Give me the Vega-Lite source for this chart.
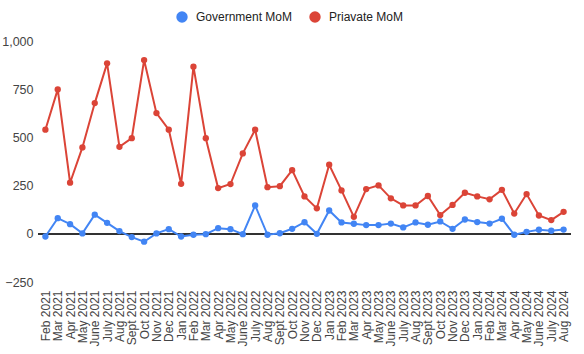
{
  "$schema": "https://vega.github.io/schema/vega-lite/v6.json",
  "width": 533,
  "height": 241,
  "autosize": "none",
  "padding": {"left": 38, "top": 41, "right": 13, "bottom": 72},
  "background": "white",
  "config": {
    "font": "Liberation Sans",
    "view": {"stroke": null},
    "axis": {"labelFont": "Liberation Sans", "labelColor": "#444444", "labelFontSize": 12}
  },
  "data": {
    "values": [
      {"month": "Feb 2021", "Government MoM": -14, "Priavate MoM": 540},
      {"month": "Mar 2021", "Government MoM": 81, "Priavate MoM": 749},
      {"month": "Apr 2021", "Government MoM": 50, "Priavate MoM": 265},
      {"month": "May 2021", "Government MoM": 2, "Priavate MoM": 448},
      {"month": "June 2021", "Government MoM": 99, "Priavate MoM": 678},
      {"month": "July 2021", "Government MoM": 57, "Priavate MoM": 884},
      {"month": "Aug 2021", "Government MoM": 14, "Priavate MoM": 451},
      {"month": "Sept 2021", "Government MoM": -17, "Priavate MoM": 496},
      {"month": "Oct 2021", "Government MoM": -41, "Priavate MoM": 901},
      {"month": "Nov 2021", "Government MoM": 2, "Priavate MoM": 626},
      {"month": "Dec 2021", "Government MoM": 24, "Priavate MoM": 540},
      {"month": "Jan 2022", "Government MoM": -14, "Priavate MoM": 259},
      {"month": "Feb 2022", "Government MoM": -5, "Priavate MoM": 867},
      {"month": "Mar 2022", "Government MoM": -2, "Priavate MoM": 496},
      {"month": "Apr 2022", "Government MoM": 29, "Priavate MoM": 237},
      {"month": "May 2022", "Government MoM": 24, "Priavate MoM": 258},
      {"month": "June 2022", "Government MoM": -2, "Priavate MoM": 417},
      {"month": "July 2022", "Government MoM": 147, "Priavate MoM": 540},
      {"month": "Aug 2022", "Government MoM": -5, "Priavate MoM": 242},
      {"month": "Sept 2022", "Government MoM": 3, "Priavate MoM": 247},
      {"month": "Oct 2022", "Government MoM": 26, "Priavate MoM": 330},
      {"month": "Nov 2022", "Government MoM": 60, "Priavate MoM": 194},
      {"month": "Dec 2022", "Government MoM": 0, "Priavate MoM": 132},
      {"month": "Jan 2023", "Government MoM": 121, "Priavate MoM": 358},
      {"month": "Feb 2023", "Government MoM": 59, "Priavate MoM": 225},
      {"month": "Mar 2023", "Government MoM": 52, "Priavate MoM": 88},
      {"month": "Apr 2023", "Government MoM": 45, "Priavate MoM": 232},
      {"month": "May 2023", "Government MoM": 45, "Priavate MoM": 251},
      {"month": "June 2023", "Government MoM": 53, "Priavate MoM": 184},
      {"month": "July 2023", "Government MoM": 33, "Priavate MoM": 147},
      {"month": "Aug 2023", "Government MoM": 59, "Priavate MoM": 147},
      {"month": "Sept 2023", "Government MoM": 47, "Priavate MoM": 196},
      {"month": "Oct 2023", "Government MoM": 64, "Priavate MoM": 97},
      {"month": "Nov 2023", "Government MoM": 26, "Priavate MoM": 150},
      {"month": "Dec 2023", "Government MoM": 74, "Priavate MoM": 213},
      {"month": "Jan 2024", "Government MoM": 61, "Priavate MoM": 194},
      {"month": "Feb 2024", "Government MoM": 53, "Priavate MoM": 179},
      {"month": "Mar 2024", "Government MoM": 78, "Priavate MoM": 228},
      {"month": "Apr 2024", "Government MoM": -5, "Priavate MoM": 105},
      {"month": "May 2024", "Government MoM": 10, "Priavate MoM": 206},
      {"month": "June 2024", "Government MoM": 21, "Priavate MoM": 95},
      {"month": "July 2024", "Government MoM": 16, "Priavate MoM": 71},
      {"month": "Aug 2024", "Government MoM": 22, "Priavate MoM": 114}
    ]
  },
  "transform": [
    {"fold": ["Government MoM", "Priavate MoM"], "as": ["series", "value"]}
  ],
  "layer": [
    {
      "mark": {"type": "rule", "color": "#333333", "strokeWidth": 1},
      "encoding": {"y": {"datum": 0, "type": "quantitative"}}
    },
    {
      "mark": {"type": "line", "strokeWidth": 2, "point": {"filled": true, "size": 40}},
      "encoding": {
        "x": {
          "field": "month", "type": "ordinal", "sort": null,
          "scale": {"type": "point", "padding": 0.6},
          "axis": {"title": null, "labelAngle": -90, "domain": false, "ticks": false, "labelPadding": 8, "grid": false, "labelFontSize": 12}
        },
        "y": {
          "field": "value", "type": "quantitative",
          "scale": {"domain": [-250, 1000], "nice": false, "zero": false},
          "axis": {"title": null, "values": [-250, 0, 250, 500, 750, 1000], "labelExpr": "format(datum.value, ',.0f')", "domain": false, "ticks": false, "labelPadding": 5, "gridColor": "#cccccc", "labelFontSize": 12.5}
        },
        "color": {
          "field": "series", "type": "nominal",
          "scale": {"domain": ["Government MoM", "Priavate MoM"], "range": ["#4285F4", "#DB4437"]},
          "legend": {"title": null, "orient": "none", "direction": "horizontal", "legendX": 138, "legendY": -30, "symbolType": "circle", "symbolSize": 130, "symbolStrokeWidth": 0, "labelFontSize": 12, "labelColor": "#222222", "columnPadding": 16, "labelOffset": 8}
        }
      }
    }
  ]
}
